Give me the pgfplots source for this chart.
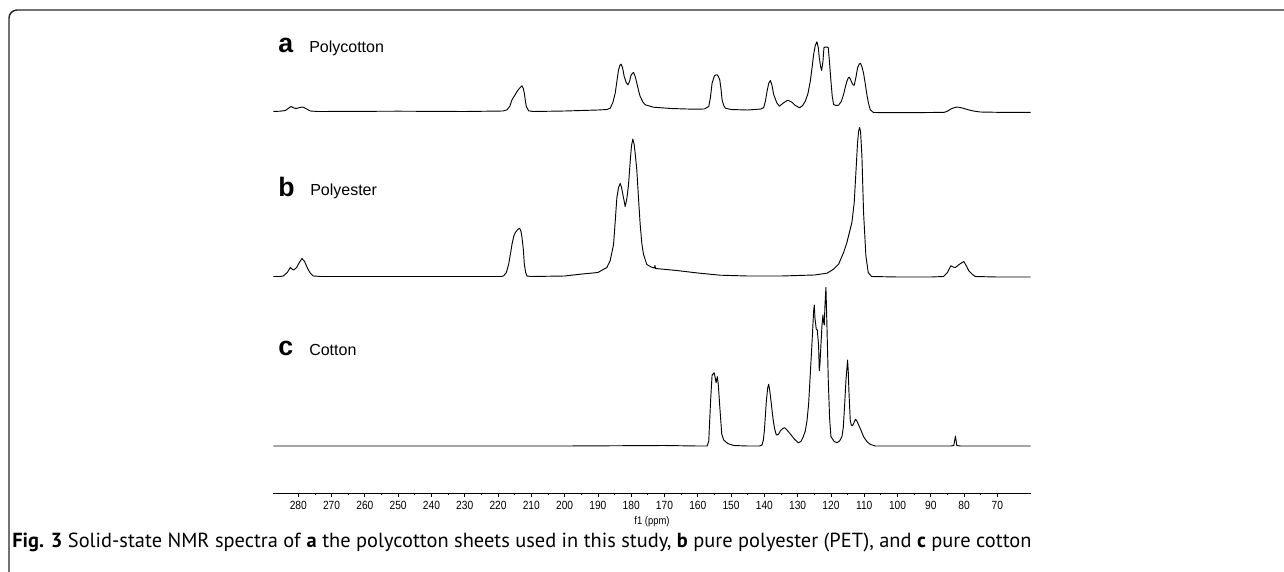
\documentclass[border=0pt]{standalone}
\usepackage{fontspec}
\setmainfont{Liberation Sans}
\newfontfamily\capfont{PT Sans}
\newfontfamily\tickfont[FakeStretch=0.86]{Liberation Sans}
\usepackage{pgfplots}
\pgfplotsset{compat=1.18}

% intensities (heights above each baseline)
\pgfplotstableread{
ppm h
287.5 0
285.5 0.3
283.9 1
282.2 5
281.3 3.5
280.6 3
279.6 4
278.6 4.5
277.5 2.5
276.4 0.5
274 0
250 0.3
230 0
218.5 0.5
217.3 1.7
216.5 5
215.8 11.7
215 16
214.3 20
213.5 23.5
212.8 25.7
212.4 23
212.1 18.3
211.8 11
211.5 5
210.8 0.7
209.5 0
200 0.5
190 1.5
187.3 2
186.3 3.3
185.5 9
184.8 18.3
184.3 30
183.8 41.7
183.4 46
183.0 47.3
182.6 44
182.1 35
181.5 29
181.0 26.7
180.5 30
180.1 35.7
179.7 38
179.3 39
178.8 35
178.3 28.3
177.8 21
177.3 15
176.5 9.5
175.8 6.7
173.3 4.3
168 3
161.3 2.3
158 2.5
156.7 5
156.2 14
155.7 28.3
155.0 35.7
154.6 36.5
154.2 36.7
153.8 35
153.4 31.7
153.0 22
152.7 11.7
152.2 6
151.7 3.3
150 2
145 1.5
141 2.5
140.2 4
139.7 10
139.2 20
138.7 28
138.2 31
137.7 26
137.2 17
136.3 9
135.5 5.3
134.3 8.5
133.0 11.3
131.8 9.5
130.8 6.3
129.4 3.7
128.5 6
127.7 10.3
126.9 18
126.2 30.3
125.7 43
125.2 57
124.7 66
124.2 69.7
123.8 64
123.5 53.7
123.1 45
122.8 41
122.4 50
122.1 63.7
121.8 64.5
121.5 64.3
121.1 64.5
120.8 63.7
120.4 48
120.0 30.3
119.6 15
119.2 7
118.5 6
117.7 6.3
116.9 10
116.2 17
115.7 24
115.2 30.3
114.8 33.5
114.5 34.3
114.1 32
113.7 28.7
113.3 26.5
113.0 26.3
112.5 34
112.0 43.7
111.5 47.5
111.1 48
110.7 45
110.2 38.3
109.7 28
109.2 16.7
108.7 8
108.2 1.7
107.2 -1
100 -1.2
90 -1
86 -0.8
85.2 0
83.7 3
82.2 4.5
81.2 4
80.2 3.2
78.5 1.5
77.2 0.5
75.2 -0.5
70 -0.8
60 -0.8
}\polycotton

\pgfplotstableread{
ppm h
287.5 0
285.5 0
284.5 0.5
283.3 4
282.4 9
281.9 7.5
281.4 6.4
280.5 9
279.7 14
278.9 18
278.1 15
277.2 8
276.3 3
275.5 0.5
273 0
250 0
230 0
219 0
218.3 0.7
217.5 4
216.8 12.3
216.3 22
215.8 32.3
215.3 40
214.8 44
214.1 47
213.5 48.3
213.1 45
212.8 39
212.4 27
212.1 12.3
211.7 4
211.3 0.5
210 0
200 0.5
195.3 2.3
190 4
187.3 9
186.3 16
185.3 32
184.8 55
184.3 79
183.8 89
183.3 93
182.9 89
182.5 82
181.8 70
181.3 78
180.8 92
180.3 115
179.9 131
179.5 137.4
179.1 132
178.7 120
178.3 106
177.8 78
177.3 52
176.8 33
176.3 22
175.3 12
174 9.5
173.0 8.5
172.85 11
172.7 8
166.3 6
160 3.5
153.3 1.3
145 0.5
135 0.5
125 1.5
121.2 3.3
119.2 7.3
117.7 12.3
116.2 24
115.2 34
114.7 40.7
113.7 54
113.0 74
112.5 104
112.0 134
111.7 145
111.4 149
111.1 145
110.7 121
110.2 64
109.5 20.7
108.8 4
107.8 0
100 -0.5
90 -0.5
86.2 0
85 4
84.0 10.7
83.3 9.5
82.6 9
81.5 12
80.1 15
79.3 10.5
78.6 5.7
77.5 2
76.6 0
70 -0.5
60 -0.5
}\polyester

\pgfplotstableread{
ppm h
287.5 0
270 0
250 0
230 0
200 0
170 0.5
160 0
157.2 0
156.7 5
156.5 20
156.1 48
155.7 71
155.4 72
155.1 73.3
154.8 69
154.5 63.3
154.3 67
154.1 69.3
153.8 60
153.4 40
152.8 12
152.2 6
151 2.5
149.2 0.5
145 0
141.5 0
140.7 1
140.3 6
140.0 15
139.7 30
139.4 45
139.0 58
138.7 61.7
138.4 56
138.0 45
137.6 33
137.3 25
136.9 17
136.4 11
135.8 11.5
135.2 15
134.5 17.5
133.9 18.3
133.2 16
132.2 12
131 7
129.8 3.3
129 4.5
128.3 9.3
127.7 15
127.2 25
126.7 42
126.3 66
125.9 90
125.5 115
125.2 135
125.0 141
124.8 128
124.4 116.7
124.1 116
123.7 100
123.5 75.3
123.3 82
123.1 95
122.7 120
122.4 131
122.2 124
122.0 121
121.8 140
121.5 158.7
121.2 120
120.8 66
120.4 28
120.0 9.3
119 4.5
118.2 3.3
117.4 5
116.7 9.3
116.3 18
115.9 40
115.5 65
115.0 86
114.8 75
114.6 55
114.2 26
113.9 21
113.5 20.3
113.0 24
112.6 26.7
112.2 25
111.8 22
111 16
110.2 9.3
109.2 4.5
108.2 1.7
106.7 0
100 0
90 0
84 0
83.1 0.5
82.6 10
82.2 0.5
81 0
70 0
60 0
}\cotton

\begin{document}
\begin{tikzpicture}[x=0.75pt,y=-0.75pt]
\useasboundingbox (0,0) rectangle (1284,571);
% figure frame (top and left edges)
\draw[line width=1.1pt, black!85, rounded corners=6pt] (9,580) -- (9,10) -- (1300,10);

\begin{axis}[
    at={(489pt,-369.975pt)}, anchor=south,
    x=2.49675pt, y=0.75pt,
    x dir=reverse,
    xmin=60, xmax=287.5,
    ymin=0, ymax=470,
    axis x line*=bottom,
    axis y line=none,
    x axis line style={-, line width=0.6pt},
    xtick={70,80,...,280},
    minor x tick num=1,
    xtick align=outside,
    major tick length=2.5pt,
    minor tick length=1.3pt,
    every tick/.style={line width=0.6pt, black},
    /pgf/number format/assume math mode=true,
    xticklabel style={font=\tickfont\fontsize{8.9}{10}\selectfont},
    xlabel={f1 (ppm)},
    xlabel style={font=\tickfont\fontsize{8.2}{9}\selectfont, yshift=2pt},
    clip=false,
]
\addplot[black, line width=0.7pt, line join=round, y filter/.expression={y+381.8}]
    table[x=ppm, y=h] {\polycotton};
\addplot[black, line width=0.7pt, line join=round, y filter/.expression={y+216.8}]
    table[x=ppm, y=h] {\polyester};
\addplot[black, line width=0.7pt, line join=round, y filter/.expression={y+47.3}]
    table[x=ppm, y=h] {\cotton};
\end{axis}

% spectrum labels
\node[anchor=base west, inner sep=0pt, font=\bfseries\fontsize{20}{22}\selectfont] at (278,52) {a};
\node[anchor=base west, inner sep=0pt, font=\fontsize{12}{14}\selectfont] at (309,52) {Polycotton};
\node[anchor=base west, inner sep=0pt, font=\bfseries\fontsize{20}{22}\selectfont] at (278,196) {b};
\node[anchor=base west, inner sep=0pt, font=\fontsize{12}{14}\selectfont] at (310,195) {Polyester};
\node[anchor=base west, inner sep=0pt, font=\bfseries\fontsize{20}{22}\selectfont] at (278,355) {c};
\node[anchor=base west, inner sep=0pt, font=\fontsize{12}{14}\selectfont] at (309,355) {Cotton};

% caption
\node[anchor=base west, inner sep=0pt, font=\capfont\fontsize{15.3}{17}\selectfont] at (12,547)
  {\textbf{Fig. 3} Solid-state NMR spectra of \textbf{a} the polycotton sheets used in this study, \textbf{b} pure polyester (PET), and \textbf{c} pure cotton};
\end{tikzpicture}
\end{document}
